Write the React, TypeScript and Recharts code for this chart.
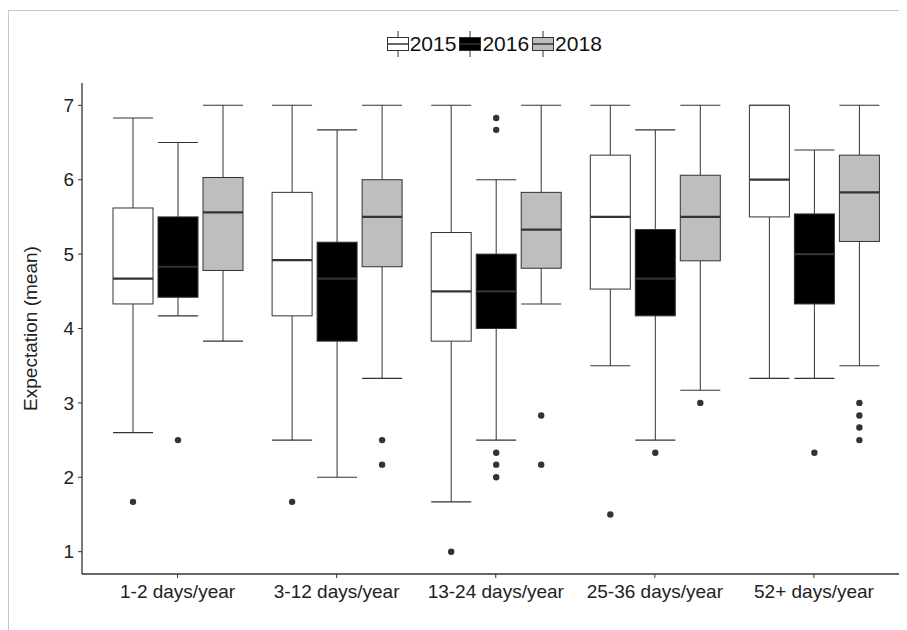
import React from 'react';
import { ComposedChart, Bar, XAxis, YAxis, Legend } from 'recharts';

const categories = ['1-2 days/year', '3-12 days/year', '13-24 days/year', '25-36 days/year', '52+ days/year'];
const years = ['2015', '2016', '2018'];
const yTicks = [1, 2, 3, 4, 5, 6, 7];

// [lower whisker, Q1, median, Q3, upper whisker]
const box2015 = [
  [2.6, 4.33, 4.67, 5.62, 6.83],
  [2.5, 4.17, 4.92, 5.83, 7],
  [1.67, 3.83, 4.5, 5.29, 7],
  [3.5, 4.53, 5.5, 6.33, 7],
  [3.33, 5.5, 6.0, 7, 7],
];
const box2016 = [
  [4.17, 4.42, 4.83, 5.5, 6.5],
  [2.0, 3.83, 4.67, 5.16, 6.67],
  [2.5, 4.0, 4.5, 5.0, 6.0],
  [2.5, 4.17, 4.67, 5.33, 6.67],
  [3.33, 4.33, 5.0, 5.54, 6.4],
];
const box2018 = [
  [3.83, 4.78, 5.56, 6.03, 7],
  [3.33, 4.83, 5.5, 6.0, 7],
  [4.33, 4.81, 5.33, 5.83, 7],
  [3.17, 4.91, 5.5, 6.06, 7],
  [3.5, 5.17, 5.83, 6.33, 7],
];
const outliers2015 = [[1.67], [1.67], [1.0], [1.5], []];
const outliers2016 = [[2.5], [], [6.83, 6.67, 2.33, 2.17, 2.0], [2.33], [2.33]];
const outliers2018 = [[], [2.5, 2.17], [2.83, 2.17], [3.0], [3.0, 2.83, 2.67, 2.5]];

const fills = ['#FFFFFF', '#000000', '#BEBEBE'];
const INK = '#333333';
const FONT = '"Liberation Sans", Arial, sans-serif';

const data = categories.map((cat, i) => ({
  cat,
  s2015: box2015[i],
  s2016: box2016[i],
  s2018: box2018[i],
  o2015: outliers2015[i],
  o2016: outliers2016[i],
  o2018: outliers2018[i],
}));

function BoxShape(props: any) {
  const { x, y, width, height, statKey, outKey, boxFill } = props;
  const row = props.payload ?? props;
  const s: number[] = row[statKey];
  const outs: number[] = row[outKey] || [];
  const lo = s[0];
  const hi = s[4];
  const top = Math.min(y, y + height);
  const bottom = Math.max(y, y + height);
  const k = (bottom - top) / (hi - lo);
  const py = (v: number) => top + (hi - v) * k;
  const cx = x + width / 2;
  return (
    <g>
      <line x1={cx} x2={cx} y1={py(hi)} y2={py(s[3])} stroke={INK} strokeWidth={1} />
      <line x1={cx} x2={cx} y1={py(s[1])} y2={py(lo)} stroke={INK} strokeWidth={1} />
      <line x1={x} x2={x + width} y1={py(hi)} y2={py(hi)} stroke={INK} strokeWidth={1.1} />
      <line x1={x} x2={x + width} y1={py(lo)} y2={py(lo)} stroke={INK} strokeWidth={1.1} />
      <rect x={x} y={py(s[3])} width={width} height={py(s[1]) - py(s[3])} fill={boxFill} stroke={INK} strokeWidth={1} />
      <line x1={x} x2={x + width} y1={py(s[2])} y2={py(s[2])} stroke={INK} strokeWidth={2.2} />
      {outs.map((v, j) => (
        <circle key={j} cx={cx} cy={py(v)} r={3.2} fill={INK} />
      ))}
    </g>
  );
}

function LegendContent() {
  return (
    <div style={{ display: 'flex', justifyContent: 'center', alignItems: 'center', fontFamily: FONT }}>
      {years.map((yr, i) => (
        <div key={yr} style={{ display: 'flex', alignItems: 'center', marginRight: 3 }}>
          <svg width={22} height={26} style={{ display: 'block' }}>
            <line x1={11} x2={11} y1={0} y2={26} stroke={INK} strokeWidth={1} />
            <rect x={0.5} y={6.5} width={21} height={13} fill={fills[i]} stroke={INK} strokeWidth={1} />
            <line x1={0.5} x2={21.5} y1={13} y2={13} stroke={INK} strokeWidth={1.5} />
          </svg>
          <span style={{ fontSize: 21, color: '#111', marginLeft: 1, lineHeight: '26px' }}>{yr}</span>
        </div>
      ))}
    </div>
  );
}

function YTitle(props: any) {
  const vb = props.viewBox || { x: 0, y: 72, width: 73, height: 491 };
  const cy = vb.y + vb.height / 2;
  const cx = 21;
  return (
    <text
      x={cx}
      y={cy}
      transform={`rotate(-90 ${cx} ${cy})`}
      textAnchor="middle"
      dominantBaseline="central"
      fill="#222"
      fontSize={19}
      fontFamily={FONT}
    >
      Expectation (mean)
    </text>
  );
}

const keys = ['2015', '2016', '2018'];

export default function App() {
  return (
    <div style={{ width: 899, height: 622, overflow: 'hidden', position: 'relative', fontFamily: FONT }}>
      <div
        style={{
          position: 'absolute',
          left: 0,
          top: 2,
          width: 930,
          height: 650,
          border: '1px solid #c8c8c8',
          background: '#fff',
        }}
      >
        <ComposedChart
          width={910}
          height={625}
          data={data}
          margin={{ top: 72, right: 9.5, left: 0, bottom: 22 }}
          barGap={5}
        >
          <XAxis
            dataKey="cat"
            interval={0}
            padding={{ left: 16, right: 16 }}
            height={40}
            tickSize={4}
            tickMargin={7}
            axisLine={{ stroke: INK, strokeWidth: 1.3 }}
            tickLine={{ stroke: INK }}
            tick={{ fill: '#222', fontSize: 19, fontFamily: FONT }}
          />
          <YAxis
            type="number"
            domain={[0.7, 7.3]}
            allowDataOverflow
            ticks={yTicks}
            width={73}
            tickSize={4}
            tickMargin={4}
            axisLine={{ stroke: INK, strokeWidth: 1.3 }}
            tickLine={{ stroke: INK }}
            tick={{ fill: '#222', fontSize: 19, fontFamily: FONT }}
            label={(p: any) => <YTitle {...p} />}
          />
          <Legend
            verticalAlign="middle"
            align="center"
            layout="horizontal"
            content={() => <LegendContent />}
            wrapperStyle={{ top: 20, left: 73, width: 827.5, bottom: 'auto' }}
          />
          {keys.map((k, i) => (
            <Bar
              key={k}
              name={k}
              dataKey={(d: any) => [d['s' + k][0], d['s' + k][4]]}
              fill={fills[i]}
              barSize={40}
              isAnimationActive={false}
              shape={(p: any) => <BoxShape {...p} statKey={'s' + k} outKey={'o' + k} boxFill={fills[i]} />}
            />
          ))}
        </ComposedChart>
      </div>
    </div>
  );
}
